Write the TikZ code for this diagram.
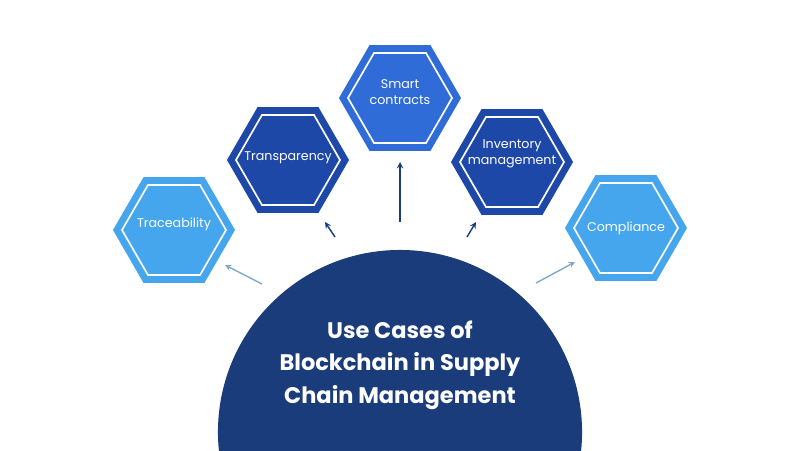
\documentclass[tikz,border=0pt]{standalone}
\usepackage{fontspec}
\setmainfont{Poppins}
\usetikzlibrary{positioning,calc,shapes.geometric}
\definecolor{navy}{HTML}{1B3C7A}
\definecolor{darkhex}{HTML}{1E48A8}
\definecolor{midhex}{HTML}{2F6CD8}
\definecolor{lighthex}{HTML}{45A6EE}
\definecolor{paleline}{HTML}{7FA9CC}
\tikzset{
  hexa/.style={regular polygon,regular polygon sides=6,
    minimum size=3.05cm,inner sep=0pt},
  hexin/.style={regular polygon,regular polygon sides=6,
    minimum size=2.6cm,inner sep=0pt,draw=white,line width=1.2pt},
  hextext/.style={text=white,font=\fontsize{9}{11.5}\selectfont,align=center},
  arr/.style={-stealth,line width=1pt}
}
\begin{document}
\begin{tikzpicture}[x=0.025cm,y=-0.025cm]
  \useasboundingbox (0,0) rectangle (800,450);
  \begin{scope}
    \clip (0,0) rectangle (800,450);
    \fill[navy] (400,432) circle[radius=4.55cm];
  \end{scope}
  \node[text=white,align=center,font=\fontsize{16}{23}\selectfont\bfseries] (title) at (400,365)
    {Use Cases of\\Blockchain in Supply\\Chain Management};

  % hexagons
  \node[hexa,fill=lighthex] (trace) at (174,230) {};
  \node[hexa,fill=darkhex] (transp) at (288,160) {};
  \node[hexa,fill=midhex] (smart) at (400,98) {};
  \node[hexa,fill=darkhex] (inv) at (512,162) {};
  \node[hexa,fill=lighthex] (comp) at (626,228) {};
  \foreach \n in {trace,transp,smart,inv,comp} {
    \node[hexin] at (\n.center) {}; }

  \node[hextext] at ($(trace.center)+(0,-6)$) {Traceability};
  \node[hextext] at ($(transp.center)+(0,-2)$) {Transparency};
  \node[hextext] at ($(smart.center)+(0,-6)$) {Smart\\contracts};
  \node[hextext] at ($(inv.center)+(0,-8)$) {Inventory\\management};
  \node[hextext] at (comp.center) {Compliance};

  % arrows from the circle
  \coordinate (a1) at (262,284); \coordinate (b1) at (225,265);
  \coordinate (a2) at (335,237); \coordinate (b2) at (325,222);
  \coordinate (a3) at (400,222); \coordinate (b3) at (400,162);
  \coordinate (a4) at (467,237); \coordinate (b4) at (476,222);
  \coordinate (a5) at (536,283); \coordinate (b5) at (575,262);
  \draw[arr,paleline] (a1) -- (b1);
  \draw[arr,navy] (a2) -- (b2);
  \draw[arr,navy] (a3) -- (b3);
  \draw[arr,navy] (a4) -- (b4);
  \draw[arr,paleline] (a5) -- (b5);
\end{tikzpicture}
\end{document}
